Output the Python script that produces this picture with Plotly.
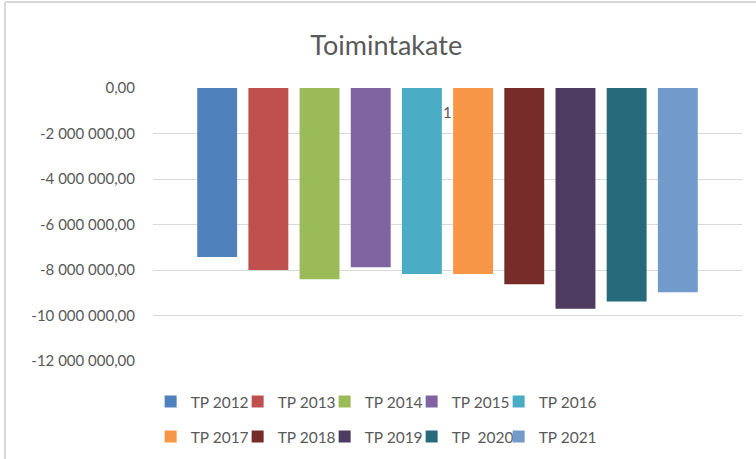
import plotly.graph_objects as go

# category on the x axis (Excel shows a single category "1")
category = ["1"]

series_names = ["TP 2012", "TP 2013", "TP 2014", "TP 2015", "TP 2016",
                "TP 2017", "TP 2018", "TP 2019", "TP \u00a02020", "TP 2021"]
toimintakate = [-7430000, -8000000, -8410000, -7880000, -8180000,
                -8180000, -8630000, -9700000, -9380000, -8980000]
colors = ["#4F81BD", "#C0504D", "#9BBB59", "#8064A2", "#4BACC6",
          "#F79646", "#772C2A", "#4D3B62", "#276A7C", "#729ACA"]

y_ticks = [0, -2000000, -4000000, -6000000, -8000000, -10000000, -12000000]
y_ticktext = ["0,00", "-2 000 000,00", "-4 000 000,00", "-6 000 000,00",
              "-8 000 000,00", "-10 000 000,00", "-12 000 000,00"]

FONT = "Lato"
GREY = "#595959"

fig = go.Figure()
for i, (name, val, col) in enumerate(zip(series_names, toimintakate, colors)):
    fig.add_trace(go.Bar(
        x=category, y=[val], name=name,
        marker=dict(color=col, line=dict(width=0)),
        legend="legend" if i < 5 else "legend2",
    ))

# empty entry closing each legend row so the last label isn't clipped
for leg in ["legend", "legend2"]:
    fig.add_trace(go.Scatter(
        x=[None], y=[None], name="", mode="none",
        hoverinfo="skip", legend=leg,
    ))

legend_common = dict(
    orientation="h", x=-0.004, xanchor="left", yanchor="middle",
    font=dict(family=FONT, size=15.5, color=GREY),
    entrywidth=42, tracegroupgap=0, bgcolor="rgba(0,0,0,0)",
)

fig.update_layout(
    width=756, height=459,
    margin=dict(l=153, r=14, t=88, b=98, autoexpand=False),
    paper_bgcolor="white", plot_bgcolor="white",
    font=dict(family=FONT, color=GREY),
    barmode="group", bargap=0.131, bargroupgap=0.22,
    title=dict(text="Toimintakate", font=dict(family=FONT, size=27, color=GREY),
               x=0.396, xref="paper", xanchor="center",
               y=1 - 46 / 459, yref="container", yanchor="middle"),
    legend=dict(y=-0.150, **legend_common),
    legend2=dict(y=-0.278, **legend_common),
    showlegend=True,
)

fig.update_yaxes(
    range=[-12000000, 0], tickvals=y_ticks, ticktext=y_ticktext,
    showgrid=True, gridcolor="#D9D9D9", gridwidth=1,
    zeroline=False, showline=False, ticks="",
    ticklabelstandoff=17,
    tickfont=dict(family=FONT, size=15, color=GREY),
)
fig.update_xaxes(type="category", range=[-0.5, 0.5], showticklabels=False,
                 showgrid=False, zeroline=False, showline=False, ticks="")

# category label sitting just under the zero line (index 0 on the category axis)
fig.add_annotation(x=0, y=0, text=category[0], showarrow=False,
                   yanchor="middle", yshift=-24,
                   font=dict(family=FONT, size=15, color=GREY))

# chart area border (left and top edges visible in the reference)
fig.add_shape(type="line", xref="paper", yref="paper",
              x0=(5 - 153) / 589, x1=(5 - 153) / 589, y0=1.315, y1=-0.37,
              line=dict(color="#D9D9D9", width=2))
fig.add_shape(type="line", xref="paper", yref="paper",
              x0=(5 - 153) / 589, x1=1.05, y0=1.315, y1=1.315,
              line=dict(color="#D9D9D9", width=2))

# drop the default body margin so the figure sits at the page corner
fig.write_html("out.html", config={"displayModeBar": False},
               post_script="document.body.style.margin='0';")
